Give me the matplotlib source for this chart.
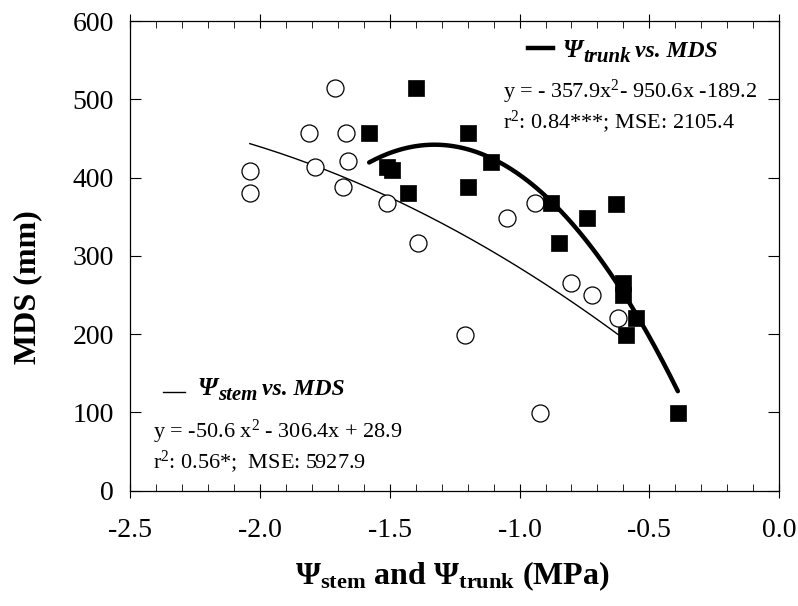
import numpy as np
import matplotlib.pyplot as plt
from matplotlib.ticker import MultipleLocator

plt.rcParams['font.family'] = ['Liberation Serif', 'DejaVu Serif']
plt.rcParams['mathtext.fontset'] = 'custom'
plt.rcParams['mathtext.rm'] = 'Liberation Serif'
plt.rcParams['mathtext.it'] = 'Liberation Serif:italic'
plt.rcParams['mathtext.bf'] = 'Liberation Serif:bold'
plt.rcParams['mathtext.bfit'] = 'Liberation Serif:italic:bold'

# stem water potential (MPa) vs MDS (mm)
stem_psi = [-2.04, -2.04, -1.81, -1.79, -1.71, -1.67, -1.66, -1.68, -1.51,
            -1.39, -1.21, -1.05, -0.94, -0.92, -0.80, -0.72, -0.62]
stem_mds = [380, 409, 457, 414, 514, 457, 421, 388, 367,
            316, 199, 348, 367, 99, 265, 250, 220]

# trunk water potential (MPa) vs MDS (mm)
trunk_psi = [-1.58, -1.51, -1.49, -1.43, -1.40, -1.20, -1.20, -1.11, -0.88,
             -0.85, -0.74, -0.63, -0.60, -0.60, -0.59, -0.55, -0.39]
trunk_mds = [457, 413, 410, 380, 514, 457, 388, 420, 367,
             316, 348, 366, 265, 250, 199, 220, 99]

# quadratic fits: a*x^2 + b*x + c
stem_fit = [-50.6, -306.4, 28.9]
trunk_fit = [-357.9, -950.6, -189.2]
stem_range = [-2.04, -0.62]
trunk_range = [-1.58, -0.39]


def fit_title(ax, x, y, sub):
    # Psi with a large subscript, then "vs. MDS" back on the Psi baseline
    d18 = 18 * 0.216
    d15 = 15 * 0.216
    drop = 3.6
    t1 = ax.text(x, y, '\u03a8', transform=ax.transAxes, ha='left',
                 va='baseline', fontsize=18, fontweight='bold', style='italic')
    t2 = ax.annotate(sub, xy=(1, 0), xycoords=t1, xytext=(1, d18 - drop),
                     textcoords='offset points', ha='left', va='baseline',
                     fontsize=15, fontweight='bold', style='italic')
    ax.annotate('vs. MDS', xy=(1, 0), xycoords=t2, xytext=(3, d15 + drop),
                textcoords='offset points', ha='left', va='baseline',
                fontsize=17, fontweight='bold', style='italic')


fig = plt.figure(figsize=(7.98, 6.06), dpi=100)
ax = fig.add_axes([0.1635, 0.1903, 0.8127, 0.775])

xs = np.linspace(stem_range[0], stem_range[1], 200)
ax.plot(xs, np.polyval(stem_fit, xs), color='black', lw=1.0, zorder=2)
xt = np.linspace(trunk_range[0], trunk_range[1], 200)
ax.plot(xt, np.polyval(trunk_fit, xt), color='black', lw=3.2,
        solid_capstyle='round', zorder=2)

ax.scatter(stem_psi, stem_mds, s=150, marker='o', facecolors='white',
           edgecolors='black', linewidths=0.9, zorder=3)
ax.scatter(trunk_psi, trunk_mds, s=140, marker='s', facecolors='black',
           edgecolors='black', linewidths=0.5, zorder=4)

ax.set_xlim(-2.5, 0.0)
ax.set_ylim(0, 600)
ax.xaxis.set_major_locator(MultipleLocator(0.5))
ax.xaxis.set_minor_locator(MultipleLocator(0.1))
ax.yaxis.set_major_locator(MultipleLocator(100))
ax.xaxis.set_major_formatter(plt.FuncFormatter(lambda v, p: f'{v:.1f}'))

ax.tick_params(axis='x', which='major', direction='inout', length=10,
               width=0.8, top=True, labelsize=20, pad=15)
ax.tick_params(axis='x', which='minor', direction='in', length=5,
               width=0.6, top=True)
ax.tick_params(axis='y', which='major', direction='in', length=8,
               width=0.8, right=True, labelsize=20, pad=12)
for sp in ax.spines.values():
    sp.set_linewidth(0.9)

ax.text(0.496, -0.1986,
        r'$\mathbf{\Psi}_{\mathbf{stem}}$ and $\mathbf{\Psi}_{\mathbf{trunk}}$ (MPa)',
        transform=ax.transAxes, ha='center', va='baseline',
        fontsize=23, fontweight='bold')
ax.text(-0.158, 0.434, 'MDS (mm)', transform=ax.transAxes, rotation=90,
        ha='center', va='center', fontsize=23, fontweight='bold')

# trunk fit legend
ax.plot([0.613, 0.652], [0.9425, 0.9425], color='black', lw=3.2,
        transform=ax.transAxes, clip_on=False)
fit_title(ax, 0.6654, 0.9234, 'trunk')
ax.text(0.5744, 0.836, r'y = - 357.9x$^{2}$- 950.6x -189.2',
        transform=ax.transAxes, ha='left', va='baseline', fontsize=16)
ax.text(0.5744, 0.7722, r'r$^{2}$: 0.84***; MSE: 2105.4',
        transform=ax.transAxes, ha='left', va='baseline', fontsize=16)

# stem fit legend
ax.plot([0.050, 0.084], [0.210, 0.210], color='black', lw=1.0,
        transform=ax.transAxes, clip_on=False)
fit_title(ax, 0.1025, 0.2037, 'stem')
ax.text(0.0347, 0.1122, r'y = -50.6 x$^{2}$ - 306.4x + 28.9',
        transform=ax.transAxes, ha='left', va='baseline', fontsize=16)
ax.text(0.0347, 0.0484, r'r$^{2}$: 0.56*;  MSE: 5927.9',
        transform=ax.transAxes, ha='left', va='baseline', fontsize=16)

fig.savefig('out.png', dpi=100)
